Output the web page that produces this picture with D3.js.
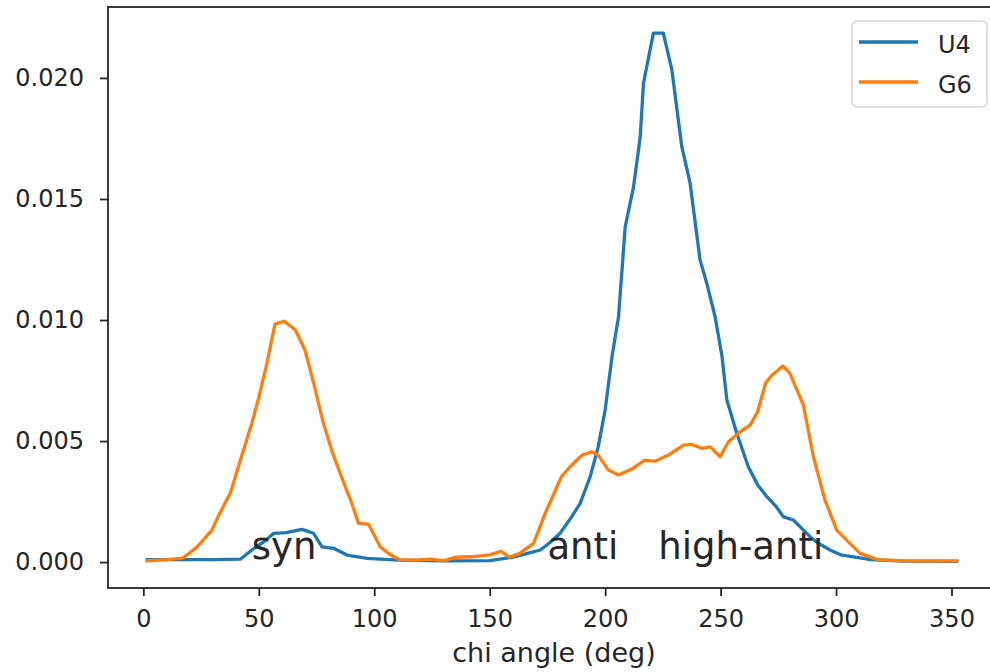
<!DOCTYPE html>
<html>
<head>
<meta charset="utf-8">
<script src="https://cdn.jsdelivr.net/npm/d3@7"></script>
<style>
  body { margin: 0; background: white; }
  text { font-family: "DejaVu Sans", sans-serif; fill: #262626; }
</style>
</head>
<body>
<div id="vis"></div>
<script>
// Datos: [angulo chi (deg), densidad]
const U4 = [
  [1, 0.0001], [20, 0.0001], [30, 0.0001], [42, 0.00012], [47, 0.0005], [53, 0.0009],
  [56.5, 0.00119], [62, 0.00122], [68.7, 0.00135], [73.7, 0.00119], [77.4, 0.00063],
  [82.4, 0.00057], [88.2, 0.00029], [96.8, 0.00015], [111, 0.00008], [130, 0.00005],
  [150, 0.00006], [160, 0.0002], [166, 0.00035], [171.9, 0.0005], [176, 0.0008],
  [180.5, 0.00119], [185, 0.0018], [189.2, 0.00243], [193.5, 0.00352], [197, 0.00476],
  [200, 0.00628], [203, 0.0085], [205.8, 0.01014], [208.7, 0.01386], [212.3, 0.0155],
  [215.2, 0.01757], [216.6, 0.01978], [220.9, 0.02185], [225.2, 0.02185], [228.9, 0.02033],
  [233.2, 0.01716], [236.8, 0.01565], [241.1, 0.01248], [244, 0.01152], [247.6, 0.01014],
  [250.6, 0.0085], [252.7, 0.0067], [257, 0.00532], [262, 0.00394], [266, 0.0032],
  [270, 0.0027], [274, 0.0023], [277.2, 0.00187], [281.5, 0.00174], [288.7, 0.00105],
  [292, 0.0008], [297.4, 0.0005], [302, 0.0003], [307.5, 0.00022], [315, 0.0001],
  [330, 0.00004], [353, 0.00003]
];

const G6 = [
  [1, 0.00005], [10, 0.0001], [17, 0.00016], [23, 0.0006], [29.7, 0.00132], [33, 0.002],
  [37.7, 0.00285], [42, 0.0042], [47, 0.00574], [50, 0.0068], [53.5, 0.0082], [57, 0.00983],
  [61, 0.00995], [65.8, 0.0096], [70, 0.00876], [74, 0.0073], [78, 0.00573], [82, 0.0045],
  [86.7, 0.0033], [90, 0.0025], [93.2, 0.0016], [97.5, 0.00157], [102.6, 0.00063],
  [107, 0.0003], [111, 0.0001], [118, 0.00008], [125, 0.00012], [130, 0.00005], [135, 0.0002],
  [142, 0.00022], [150, 0.0003], [155, 0.00045], [158.4, 0.0002], [163, 0.00036], [169, 0.00077],
  [174, 0.002], [181, 0.00352], [184.8, 0.00394], [190, 0.00442], [194.2, 0.00456], [197, 0.00442],
  [201.4, 0.0038], [205.8, 0.0036], [212, 0.00387], [217, 0.0042], [221.6, 0.00417],
  [227.4, 0.00442], [233.9, 0.00483], [237.5, 0.00486], [241.9, 0.0047], [245.5, 0.00476],
  [249.8, 0.00435], [253.4, 0.00497], [258.4, 0.00538], [262.8, 0.00566], [266, 0.0062],
  [269.5, 0.0074], [272, 0.0077], [277, 0.0081], [280, 0.0078], [285.8, 0.0065],
  [290.2, 0.00435], [295.2, 0.00256], [300.3, 0.00132], [306, 0.00077], [310.4, 0.00036],
  [318, 0.0001], [330, 0.00005], [353, 0.00005]
];

const SERIES = ["U4", "G6"];
const COLORES = ["#1f77b4", "#ff7f0e"];
const X_TICKS = [0, 50, 100, 150, 200, 250, 300, 350];
const Y_TICKS = [0, 0.005, 0.010, 0.015, 0.020];
const X_LABEL = "chi angle (deg)";
// Anotaciones de conformacion
const ETIQUETAS = ["syn", "anti", "high-anti"];
const ETIQUETAS_X = [47, 175, 223];

const WIDTH = 990;
const HEIGHT = 672;

const MARGIN = {
  top: 7,
  bottom: 84,
  left: 108,
  right: -10, // el eje sigue un poco fuera de la imagen
};

const SVG = d3.select("#vis").append("svg").attr("width", WIDTH).attr("height", HEIGHT);

// Escalas
const x = d3.scaleLinear().domain([-15.3, 371]).range([MARGIN.left, WIDTH - MARGIN.right]);
const y = d3.scaleLinear().domain([-0.00107, 0.02293]).range([HEIGHT - MARGIN.bottom, MARGIN.top]);

// Ejes
const gx = SVG.append("g").attr("transform", `translate(0, ${HEIGHT - MARGIN.bottom})`)
  .call(d3.axisBottom(x).tickValues(X_TICKS).tickFormat(d3.format("d")).tickSize(8).tickSizeOuter(0).tickPadding(14));
const gy = SVG.append("g").attr("transform", `translate(${MARGIN.left}, 0)`)
  .call(d3.axisLeft(y).tickValues(Y_TICKS).tickFormat(d3.format(".3f")).tickSize(8).tickSizeOuter(0).tickPadding(16));

[gx, gy].forEach(g => {
  g.attr("font-size", 24).attr("font-family", "DejaVu Sans");
  g.selectAll("text").attr("fill", "#262626");
  g.selectAll("line").attr("stroke", "#262626").attr("stroke-width", 1.8);
  g.select(".domain").remove();
});

// Marco (spines)
SVG.append("rect")
  .attr("x", x.range()[0]).attr("y", y.range()[1])
  .attr("width", x.range()[1] - x.range()[0]).attr("height", y.range()[0] - y.range()[1])
  .attr("fill", "none").attr("stroke", "#262626").attr("stroke-width", 1.8);

// Lineas
const linea = d3.line().x(d => x(d[0])).y(d => y(d[1]));
SVG.selectAll(".serie").data([U4, G6]).join("path")
  .attr("class", "serie")
  .attr("d", linea)
  .attr("fill", "none")
  .attr("stroke", (d, i) => COLORES[i])
  .attr("stroke-width", 3.3)
  .attr("stroke-linejoin", "round");

// Anotaciones
SVG.selectAll(".etiqueta").data(ETIQUETAS).join("text")
  .attr("class", "etiqueta")
  .attr("x", (d, i) => x(ETIQUETAS_X[i]))
  .attr("y", y(0) - 3)
  .attr("font-size", 37)
  .text(d => d);

// Titulo eje x
SVG.append("text")
  .attr("x", (x.range()[0] + x.range()[1]) / 2)
  .attr("y", 662)
  .attr("text-anchor", "middle")
  .attr("font-size", 27)
  .text(X_LABEL);

// Leyenda
const leyenda = SVG.append("g").attr("transform", "translate(852, 21)");
leyenda.append("rect").attr("width", 135).attr("height", 86).attr("rx", 5)
  .attr("fill", "white").attr("fill-opacity", 0.8).attr("stroke", "#d5d5d5").attr("stroke-width", 1.5);
const item = leyenda.selectAll(".item").data(SERIES).join("g")
  .attr("class", "item")
  .attr("transform", (d, i) => `translate(0, ${21 + i * 40})`);
item.append("line").attr("x1", 7).attr("x2", 66)
  .attr("stroke", (d, i) => COLORES[i]).attr("stroke-width", 3.3);
item.append("text").attr("x", 86).attr("y", 11).attr("font-size", 24).text(d => d);
</script>
</body>
</html>
